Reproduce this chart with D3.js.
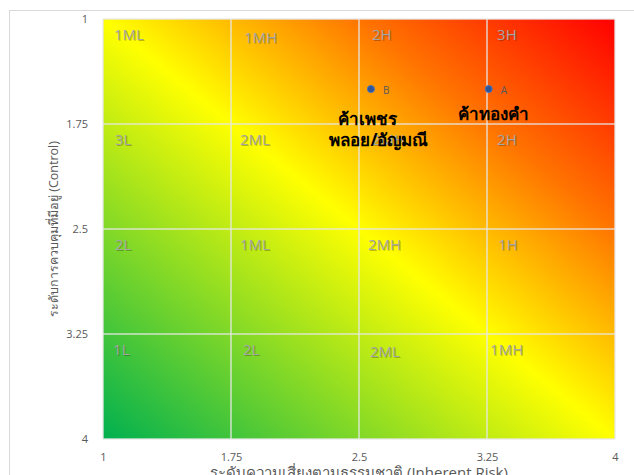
<!DOCTYPE html>
<html>
<head>
<meta charset="utf-8">
<script src="https://cdn.jsdelivr.net/npm/d3@7/dist/d3.min.js"></script>
<style>
  html, body { margin: 0; padding: 0; background: #fff; }
  svg { display: block; }
  text { font-family: "Open Sans", "Noto Sans", "DejaVu Sans", sans-serif; }
</style>
</head>
<body>
<svg id="chart" width="634" height="475"></svg>
<script>
// Axis ticks (both axes run 1..4, control axis is reversed)
const xTicks = [1, 1.75, 2.5, 3.25, 4];
const yTicks = [1, 1.75, 2.5, 3.25, 4];

// Risk-level labels for the 4x4 grid, anchored in data units
const cellText = ["1ML", "1MH", "2H", "3H",
                  "3L", "2ML", "2MH", "2H",
                  "2L", "1ML", "2MH", "1H",
                  "1L", "2L", "2ML", "1MH"];
const cellX = [1.064, 1.826, 2.576, 3.309,
               1.07, 1.803, 2.576, 3.309,
               1.07, 1.803, 2.553, 3.314,
               1.059, 1.82, 2.564, 3.268];
const cellY = [1.114, 1.136, 1.114, 1.114,
               1.864, 1.864, 1.864, 1.864,
               2.614, 2.614, 2.614, 2.614,
               3.364, 3.364, 3.379, 3.364];

// Business lines plotted as inherent risk vs control
const pointNames = ["A", "B"];
const pointRisk = [3.26, 2.57];
const pointControl = [1.5, 1.5];
const pointTitles = [["ค้าทองคำ"], ["ค้าเพชร", "พลอย/อัญมณี"]];

const xTitle = "ระดับความเสี่ยงตามธรรมชาติ (Inherent Risk)";
const yTitle = "ระดับการควบคุมที่มีอยู่ (Control)";

const svg = d3.select("#chart");
const margin = { left: 103, top: 19, width: 512, height: 420 };

const x = d3.scaleLinear().domain([1, 4]).range([margin.left, margin.left + margin.width]);
const y = d3.scaleLinear().domain([1, 4]).range([margin.top, margin.top + margin.height]);

// Chart-area frame
svg.append("rect")
  .attr("x", 9.5).attr("y", 10.5)
  .attr("width", 800).attr("height", 800)
  .attr("fill", "none").attr("stroke", "#d9d9d9");

// Diagonal heat gradient: green -> yellow -> orange -> red
const defs = svg.append("defs");
const grad = defs.append("linearGradient")
  .attr("id", "heat")
  .attr("x1", 0).attr("y1", 1).attr("x2", 1).attr("y2", 0);
grad.append("stop").attr("offset", "0%").attr("stop-color", "#00b050");
grad.append("stop").attr("offset", "50%").attr("stop-color", "#ffff00");
grad.append("stop").attr("offset", "75%").attr("stop-color", "#ff7400");
grad.append("stop").attr("offset", "100%").attr("stop-color", "#ff0000");

svg.append("rect")
  .attr("x", x(1)).attr("y", y(1))
  .attr("width", x(4) - x(1)).attr("height", y(4) - y(1))
  .attr("fill", "url(#heat)");

// Gridlines
const grid = svg.append("g");
grid.selectAll("line.v").data(xTicks).join("line")
  .attr("x1", d => x(d)).attr("x2", d => x(d))
  .attr("y1", y(1)).attr("y2", y(4))
  .attr("stroke", "#e6e6e6").attr("stroke-opacity", 0.85).attr("stroke-width", 1.5);
grid.selectAll("line.h").data(yTicks).join("line")
  .attr("y1", d => y(d)).attr("y2", d => y(d))
  .attr("x1", x(1)).attr("x2", x(4))
  .attr("stroke", "#e6e6e6").attr("stroke-opacity", 0.85).attr("stroke-width", 1.5);

// Axes (tick labels only)
const xAxis = svg.append("g")
  .attr("transform", `translate(0,${y(4) + 11})`)
  .call(d3.axisBottom(x).tickValues(xTicks).tickSize(0).tickFormat(d3.format("")));
const yAxis = svg.append("g")
  .attr("transform", `translate(${x(1) - 12},0)`)
  .call(d3.axisLeft(y).tickValues(yTicks).tickSize(0).tickFormat(d3.format("")));
[xAxis, yAxis].forEach(g => {
  g.select(".domain").remove();
  g.selectAll("text").attr("fill", "#595959").attr("font-size", 11);
});

// Cell labels with a soft shadow
const cells = svg.append("g");
cellText.forEach((t, i) => {
  cells.append("text")
    .attr("x", x(cellX[i]) + 1).attr("y", y(cellY[i]) + 1)
    .attr("dy", "0.35em")
    .attr("font-size", 15).attr("font-family", "Carlito, 'Open Sans', sans-serif")
    .attr("fill", "#000").attr("fill-opacity", 0.25)
    .text(t);
  cells.append("text")
    .attr("x", x(cellX[i])).attr("y", y(cellY[i]))
    .attr("dy", "0.35em")
    .attr("font-size", 15).attr("font-family", "Carlito, 'Open Sans', sans-serif")
    .attr("fill", "#a6a6a6")
    .text(t);
});

// Points, letter labels and business-line captions
const captionDx = [[5], [-3, 8]];
const captionDy = [[25], [30, 51]];
const pts = svg.append("g");
pointNames.forEach((n, i) => {
  const px = x(pointRisk[i]), py = y(pointControl[i]);
  pts.append("circle")
    .attr("cx", px).attr("cy", py).attr("r", 3.5)
    .attr("fill", "#2f5597").attr("stroke", "#4472c4").attr("stroke-width", 1);
  pts.append("text")
    .attr("x", px + 12).attr("y", py + 1).attr("dy", "0.35em")
    .attr("font-size", 10).attr("fill", "#595959")
    .text(n);
  pointTitles[i].forEach((l, j) => {
    pts.append("text")
      .attr("x", px + captionDx[i][j]).attr("y", py + captionDy[i][j]).attr("dy", "0.35em")
      .attr("text-anchor", "middle")
      .attr("font-size", 17).attr("font-weight", "bold").attr("fill", "#000")
      .text(l);
  });
});

// Axis titles
svg.append("text")
  .attr("x", x(2.5)).attr("y", 478)
  .attr("text-anchor", "middle")
  .attr("font-size", 15).attr("fill", "#595959")
  .text(xTitle);
svg.append("text")
  .attr("transform", `translate(58,${y(2.5)}) rotate(-90)`)
  .attr("text-anchor", "middle")
  .attr("font-size", 12.5).attr("fill", "#595959")
  .text(yTitle);
</script>
</body>
</html>
